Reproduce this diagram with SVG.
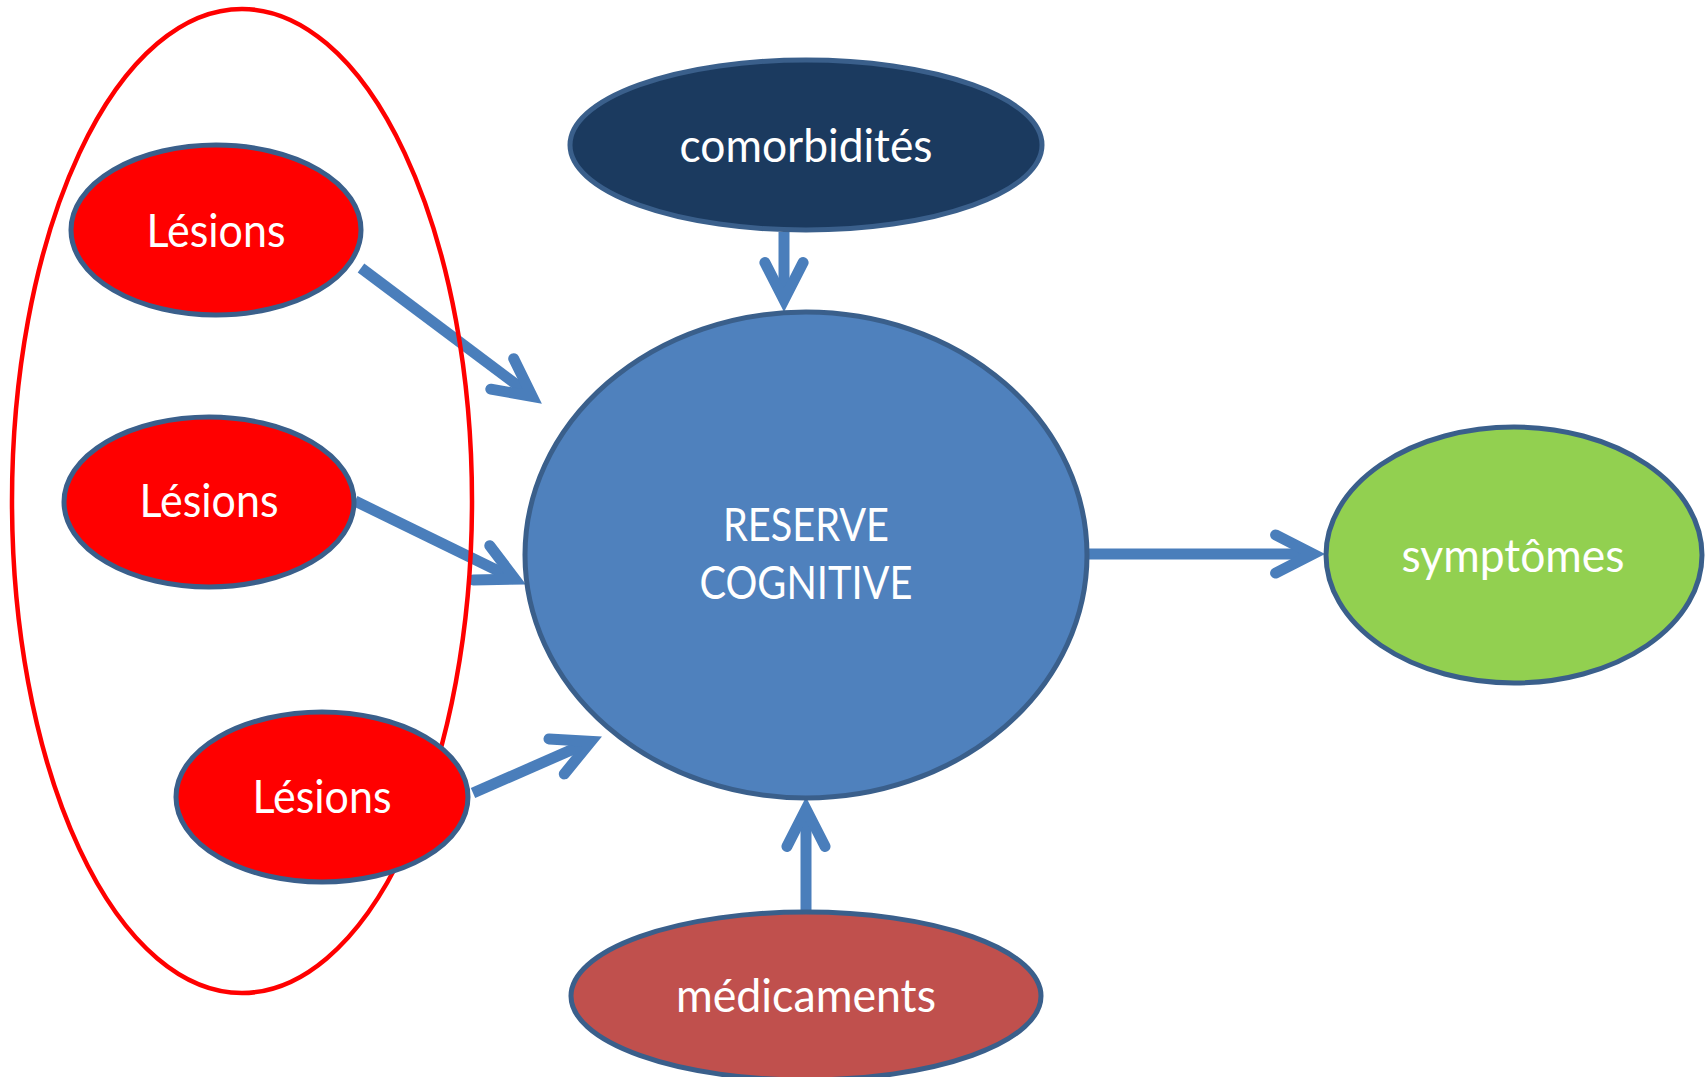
<svg xmlns="http://www.w3.org/2000/svg" width="1707" height="1077" viewBox="0 0 1707 1077">
<style>
.node{stroke:#3A5F8B;stroke-width:5}
.lbl{font-family:Lato,"Open Sans","Liberation Sans",sans-serif;font-size:46px;fill:#FFFFFF;text-anchor:middle}
.shaft{fill:none;stroke:#4A7EBB;stroke-width:11;stroke-linecap:butt}
.head{fill:none;stroke:#4A7EBB;stroke-width:11;stroke-linecap:round;stroke-linejoin:miter;stroke-miterlimit:6}
</style>
<rect width="1707" height="1077" fill="#FFFFFF"/>
<g id="connectors">
  <line class="shaft" x1="784" y1="232" x2="784" y2="300"/>
  <polyline class="head" points="764.9,262.6 784,300 803.1,262.6"/>
  <line class="shaft" x1="806" y1="910" x2="806" y2="809"/>
  <polyline class="head" points="786.9,846.4 806,809 825.1,846.4"/>
  <line class="shaft" x1="1088" y1="554" x2="1313" y2="554"/>
  <polyline class="head" points="1275.6,534.9 1313,554 1275.6,573.1"/>
  <line class="shaft" x1="361" y1="268" x2="532.2" y2="396.4"/>
  <polyline class="head" points="513.7,358.7 532.2,396.4 490.8,389.2"/>
  <line class="shaft" x1="355" y1="501" x2="515.1" y2="579.2"/>
  <polyline class="head" points="489.8,545.7 515.1,579.2 473.1,579.9"/>
  <line class="shaft" x1="473" y1="793" x2="590.9" y2="741.4"/>
  <polyline class="head" points="549,738.9 590.9,741.4 564.3,773.9"/>
</g>
<g id="lesions-group">
  <ellipse cx="242" cy="501" rx="230" ry="492" fill="none" stroke="#FF0000" stroke-width="4.5"/>
</g>
<g id="lesions1">
  <ellipse class="node" cx="216" cy="230" rx="145" ry="85" fill="#FF0000"/>
  <text class="lbl" x="216" y="247" textLength="139" lengthAdjust="spacingAndGlyphs">Lésions</text>
</g>
<g id="lesions2">
  <ellipse class="node" cx="209" cy="502" rx="145" ry="85" fill="#FF0000"/>
  <text class="lbl" x="209" y="517" textLength="139" lengthAdjust="spacingAndGlyphs">Lésions</text>
</g>
<g id="lesions3">
  <ellipse class="node" cx="322" cy="797" rx="146" ry="85" fill="#FF0000"/>
  <text class="lbl" x="322" y="813" textLength="139" lengthAdjust="spacingAndGlyphs">Lésions</text>
</g>
<g id="comorbidites">
  <ellipse class="node" cx="806" cy="145" rx="236" ry="85" fill="#1B3A5F"/>
  <text class="lbl" x="806" y="162" textLength="253" lengthAdjust="spacingAndGlyphs">comorbidités</text>
</g>
<g id="reserve">
  <ellipse class="node" cx="806" cy="555" rx="281" ry="243" fill="#4F81BD"/>
  <text class="lbl" x="806" y="541" textLength="166" lengthAdjust="spacingAndGlyphs">RESERVE</text>
  <text class="lbl" x="806" y="599" textLength="213" lengthAdjust="spacingAndGlyphs">COGNITIVE</text>
</g>
<g id="symptomes">
  <ellipse class="node" cx="1514" cy="555" rx="188" ry="128" fill="#92D050"/>
  <text class="lbl" x="1513" y="572" textLength="223" lengthAdjust="spacingAndGlyphs">symptômes</text>
</g>
<g id="medicaments">
  <ellipse class="node" cx="806" cy="996" rx="235" ry="84" fill="#C0504D"/>
  <text class="lbl" x="806" y="1012" textLength="260" lengthAdjust="spacingAndGlyphs">médicaments</text>
</g>
</svg>
